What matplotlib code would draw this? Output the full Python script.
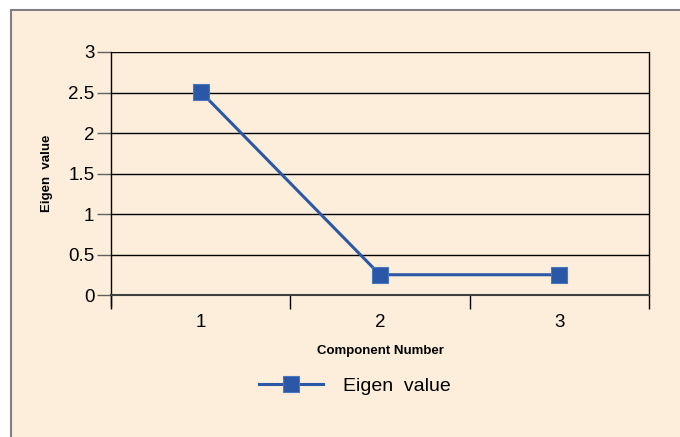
import matplotlib
matplotlib.use("Agg")
import matplotlib.pyplot as plt
from matplotlib.patches import Rectangle

components = [1, 2, 3]
eigenvalues = [2.51, 0.25, 0.25]
y_ticks = [0, 0.5, 1, 1.5, 2, 2.5, 3]
y_tick_labels = ["0", "0.5", "1", "1.5", "2", "2.5", "3"]

BG = "#fdeedc"
BLUE = "#2b58a6"

plt.rcParams.update({"font.family": ["Liberation Sans", "DejaVu Sans"]})

fig = plt.figure(figsize=(6.8, 4.37), dpi=100)
fig.patch.set_facecolor("white")
# chart frame with grey border, running off the right and bottom edges
fig.add_artist(Rectangle((11 / 680, -0.05), 1, 1.05 - 10 / 437, transform=fig.transFigure,
                         facecolor=BG, edgecolor="#808080", lw=1.5, zorder=-10))

ax = fig.add_axes([111 / 680, 1 - 295 / 437, 538 / 680, 243 / 437])
ax.set_facecolor(BG)
ax.set_xlim(0.5, 3.5)
ax.set_ylim(0, 3)

ax.plot(components, eigenvalues, color=BLUE, lw=2.2, marker="s", ms=12,
        mfc=BLUE, mec="#4a78c0", mew=0.8, label="Eigen  value", zorder=3,
        clip_on=False)

ax.set_yticks(y_ticks)
ax.set_yticklabels(y_tick_labels)
ax.yaxis.grid(True, color="black", lw=1)
ax.set_axisbelow(True)

ax.set_xticks(components)
ax.set_xticks([0.5, 1.5, 2.5, 3.5], minor=True)
ax.tick_params(axis="x", which="major", length=0, pad=14, labelsize=13.5)
ax.tick_params(axis="x", which="minor", length=10, width=1, color="black")
ax.tick_params(axis="y", length=10, width=1, color="#606060", labelsize=13.5, pad=2)

for s in ["left", "right"]:
    ax.spines[s].set_color("black")
    ax.spines[s].set_linewidth(1)
ax.spines["top"].set_visible(False)
ax.spines["bottom"].set_color("#404040")
ax.spines["bottom"].set_linewidth(1.5)
ax.spines["left"].set_bounds(-0.13, 3)

ax.set_xlabel("Component Number", fontsize=9.5, fontweight="bold")
ax.xaxis.set_label_coords(0.5, -50 / 243)
ax.set_ylabel("Eigen  value", fontsize=9.5, fontweight="bold")
ax.yaxis.set_label_coords(-58 / 538, 0.5)

fig.legend(loc="center", bbox_to_anchor=(355 / 680, 1 - 386 / 437), frameon=False,
           fontsize=14, handlelength=3.3, handletextpad=1.0)

fig.savefig("out.png", dpi=100)
